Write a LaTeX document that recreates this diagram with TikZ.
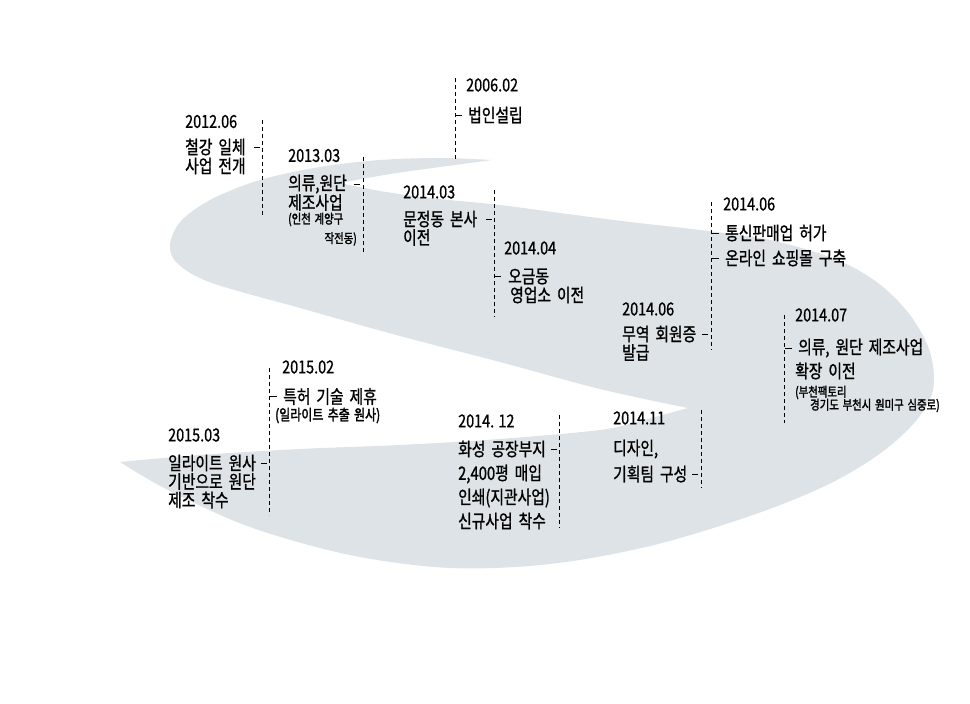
\documentclass[tikz,border=0pt]{standalone}
\usepackage{fontspec}
\setmainfont{Noto Sans CJK KR}[FakeStretch=0.80, FakeBold=1, WordSpace=1.8]
\newfontfamily\datefont{Noto Sans CJK KR}[FakeStretch=0.80, FakeBold=0.8]
\newfontfamily\notefont{Noto Sans CJK KR}[FakeStretch=0.80, FakeBold=2, WordSpace=1.6]
\definecolor{sgrey}{RGB}{221,227,230}
\tikzset{
  lbl/.style={anchor=west, inner sep=0pt, font=\fontsize{18.5}{18.5}\selectfont},
  datelbl/.style={anchor=west, inner sep=0pt, font=\datefont\fontsize{18}{18}\selectfont},
  notelbl/.style={anchor=west, inner sep=0pt, font=\notefont\fontsize{13}{13}\selectfont},
  guideline/.style={draw=black, line width=0.7pt, dash pattern=on 4pt off 3pt},
  tickmark/.style={draw=black, line width=0.8pt}
}
\begin{document}
\begin{tikzpicture}[x=1pt, y=-1pt]
\useasboundingbox (0,0) rectangle (970,704);
\fill[white] (0,0) rectangle (970,704);
% S shape
\fill[sgrey]
 plot[smooth, tension=0.55] coordinates {(492,160) (440,158) (380,160) (320,167) (260,180) (212,199) (181,221) (170,245) (178,264) (212,283) (300,308) (400,336) (500,362) (600,389) (688,408)}
 -- plot[smooth, tension=0.55] coordinates {(688,408) (640,421) (600,430) (500,439) (400,445) (300,449) (200,455) (120,462)}
 -- plot[smooth, tension=0.55] coordinates {(120,462) (168,490) (250,527) (350,555) (450,568) (550,564) (650,546) (750,516) (825,486) (878,455) (915,422) (933,390) (930,352) (910,315) (878,283) (835,259) (770,240) (700,230) (630,222) (560,213) (500,205) (430,198) (380,191) (340,183)}
 -- plot[smooth, tension=0.55] coordinates {(340,183) (390,174) (440,167) (492,160)}
 -- cycle;

% 2006.02
\coordinate (g1t) at (455,78); \coordinate (g1b) at (455,160);
\draw[guideline] (g1t) -- (g1b);
\node[datelbl] (d1) at (466,85) {2006.02};
\node[lbl] (t1a) at (468,115) {법인설립};
\draw[tickmark] (g1t |- t1a.west) -- ++(7,0);

% 2012.06
\coordinate (g2t) at (262,120); \coordinate (g2b) at (262,217);
\draw[guideline] (g2t) -- (g2b);
\node[datelbl] (d2) at (185,121.5) {2012.06};
\node[lbl] (t2a) at (185,147) {철강 일체};
\node[lbl] (t2b) at (185,166) {사업 전개};
\draw[tickmark] (g2t |- t2a.west) ++(-2,0) -- ++(-6,0);

% 2013.03
\coordinate (g3t) at (363,157); \coordinate (g3b) at (363,252);
\draw[guideline] (g3t) -- (g3b);
\node[datelbl] (d3) at (288,155.5) {2013.03};
\node[lbl] (t3a) at (288,184) {의류,원단};
\node[lbl] (t3b) at (288,202.5) {제조사업};
\node[notelbl] (t3c) at (288,219.5) {(인천 계양구};
\node[notelbl, anchor=east] (t3d) at (357,239) {작전동)};
\draw[tickmark] (g3t |- t3a.west) ++(-3,0) -- ++(-6,0);

% 2014.03 / 2014.04
\coordinate (g4t) at (494,190); \coordinate (g4b) at (494,317);
\draw[guideline] (g4t) -- (g4b);
\node[datelbl] (d4) at (403,192) {2014.03};
\node[lbl] (t4a) at (403,219) {문정동 본사};
\node[lbl] (t4b) at (403,237.5) {이전};
\draw[tickmark] (g4t |- t4a.west) ++(-2,0) -- ++(-6,0);
\node[datelbl] (d5) at (504,248) {2014.04};
\node[lbl] (t5a) at (508,276.5) {오금동};
\node[lbl] (t5b) at (510,295) {영업소 이전};
\draw[tickmark] (g4t |- t5a.west) ++(1,0) -- ++(6,0);

% 2014.06 (upper + trade)
\coordinate (g6t) at (711,202); \coordinate (g6b) at (711,350);
\draw[guideline] (g6t) -- (g6b);
\node[datelbl] (d6) at (723,204) {2014.06};
\node[lbl] (t6a) at (725,233) {통신판매업 허가};
\node[lbl] (t6b) at (725,258) {온라인 쇼핑몰 구축};
\draw[tickmark] (g6t |- t6a.west) ++(1,0) -- ++(7,0);
\draw[tickmark] (g6t |- t6b.west) ++(1,0) -- ++(7,0);
\node[datelbl] (d7) at (622,309) {2014.06};
\node[lbl] (t7a) at (622,334) {무역 회원증};
\node[lbl] (t7b) at (622,352.5) {발급};
\draw[tickmark] (g6t |- t7a.west) ++(-3,0) -- ++(-6,0);

% 2014.07
\coordinate (g8t) at (784,315); \coordinate (g8b) at (784,423);
\draw[guideline] (g8t) -- (g8b);
\node[datelbl] (d8) at (795,315) {2014.07};
\node[lbl] (t8a) at (798,348) {의류, 원단 제조사업};
\node[lbl] (t8b) at (795,371) {확장 이전};
\node[notelbl] (t8c) at (795,392.5) {(부천팩토리};
\node[notelbl] (t8d) at (810,405.5) {경기도 부천시 원미구 심중로)};
\draw[tickmark] (g8t |- t8a.west) ++(1,0) -- ++(7,0);

% 2014.11
\coordinate (g9t) at (701,410); \coordinate (g9b) at (701,488);
\draw[guideline] (g9t) -- (g9b);
\node[datelbl] (d9) at (613,418) {2014.11};
\node[lbl] (t9a) at (613,449) {디자인,};
\node[lbl] (t9b) at (613,474) {기획팀 구성};
\draw[tickmark] (g9t |- t9b.west) ++(-3,0) -- ++(-6,0);

% 2014.12
\coordinate (g10t) at (559,415); \coordinate (g10b) at (559,528);
\draw[guideline] (g10t) -- (g10b);
\node[datelbl] (d10) at (458,421) {2014. 12};
\node[lbl] (t10a) at (458,449) {화성 공장부지};
\node[lbl] (t10b) at (458,474) {2,400평 매입};
\node[lbl] (t10c) at (458,498) {인쇄(지관사업)};
\node[lbl] (t10d) at (458,521) {신규사업 착수};
\draw[tickmark] (g10t |- t10a.west) ++(-2,0) -- ++(-6,0);

% 2015.02 / 2015.03
\coordinate (g11t) at (269,368); \coordinate (g11b) at (269,515);
\draw[guideline] (g11t) -- (g11b);
\node[datelbl] (d11) at (282,367) {2015.02};
\node[lbl] (t11a) at (283,396.5) {특허 기술 제휴};
\node[notelbl, font=\notefont\fontsize{15}{15}\selectfont] (t11b) at (275,415.5) {(일라이트 추출 원사)};
\draw[tickmark] (g11t |- t11a.west) ++(1,0) -- ++(7,0);
\node[datelbl] (d12) at (168,435) {2015.03};
\node[lbl] (t12a) at (168,463) {일라이트 원사};
\node[lbl] (t12b) at (168,481.5) {기반으로 원단};
\node[lbl] (t12c) at (168,500) {제조 착수};
\draw[tickmark] (g11t |- t12a.west) ++(-2,0) -- ++(-6,0);
\end{tikzpicture}
\end{document}
